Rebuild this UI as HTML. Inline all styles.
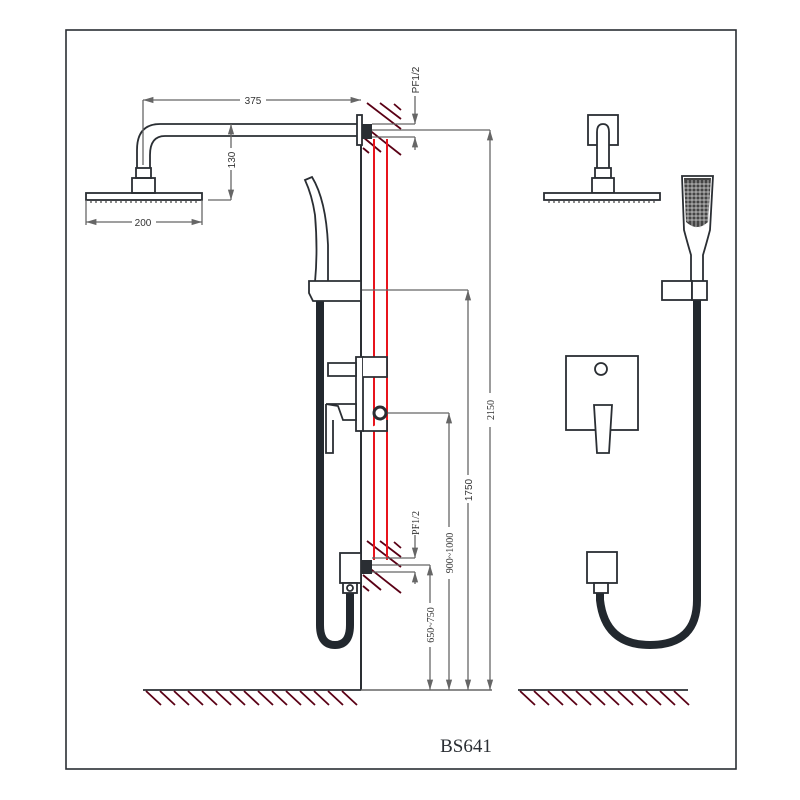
<!DOCTYPE html>
<html><head><style>body{margin:0;background:#fff}svg{display:block}</style></head><body>
<svg width="800" height="800" viewBox="0 0 800 800" xmlns="http://www.w3.org/2000/svg" font-family="Liberation Sans, sans-serif">
<defs>
<marker id="a" viewBox="0 0 10 10" refX="10" refY="5" markerWidth="8" markerHeight="8" orient="auto-start-reverse"><path d="M0,2 L10,5 L0,8 z" fill="#666"/></marker>
</defs>
<rect x="66" y="30" width="670" height="739" fill="none" stroke="#2a2e33" stroke-width="1.6"/>
<g stroke="#5a0015" stroke-width="1.8">
<line x1="143" y1="690" x2="361" y2="690" stroke="#2a2e33"/>
<line x1="518" y1="690" x2="688" y2="690" stroke="#2a2e33"/>
<path d="M146,691 l15,14 M160,691 l15,14 M174,691 l15,14 M188,691 l15,14 M202,691 l15,14 M216,691 l15,14 M230,691 l15,14 M244,691 l15,14 M258,691 l15,14 M272,691 l15,14 M286,691 l15,14 M300,691 l15,14 M314,691 l15,14 M328,691 l15,14 M342,691 l15,14"/>
<path d="M520,691 l15,14 M534,691 l15,14 M548,691 l15,14 M562,691 l15,14 M576,691 l15,14 M590,691 l15,14 M604,691 l15,14 M618,691 l15,14 M632,691 l15,14 M646,691 l15,14 M660,691 l15,14 M674,691 l15,14"/>
<path d="M367,103 l34,26 M380,103 l21,16 M394,104 l7,6 M363,125 l38,30 M363,137 l18,15 M363,148 l6,5"/>
<path d="M367,541 l34,26 M380,541 l21,16 M394,542 l7,6 M363,563 l38,30 M363,575 l18,15 M363,586 l6,5"/>
</g>
<g stroke="#e8141c" stroke-width="2"><line x1="374" y1="139" x2="374" y2="560"/><line x1="387" y1="139" x2="387" y2="560"/></g>
<line x1="361" y1="115" x2="361" y2="690" stroke="#2a2e33" stroke-width="2"/>
<g fill="none" stroke="#2a2e33" stroke-width="1.8">
<path d="M358,124 H160 Q137,124 137,150 V168"/>
<path d="M358,136 H165 Q150,136 150,155 V168"/>
<rect x="136" y="168" width="15" height="10"/>
<rect x="132" y="178" width="23" height="15"/>
<rect x="86" y="193" width="116" height="7"/>
<rect x="357" y="115" width="5" height="30" fill="#fff"/>
</g>
<rect x="362" y="124" width="10" height="15" fill="#2a2e33"/>
<path d="M90,202 H198" stroke="#666" stroke-width="1.5" stroke-dasharray="2,3"/>
<g stroke="#666" stroke-width="1.3" fill="none" font-size="10">
<line x1="143" y1="100" x2="361" y2="100" marker-start="url(#a)" marker-end="url(#a)"/>
<line x1="143" y1="100" x2="143" y2="165"/>
<line x1="231" y1="124" x2="231" y2="200" marker-start="url(#a)" marker-end="url(#a)"/>
<line x1="208" y1="200" x2="231" y2="200"/>
<line x1="86" y1="222" x2="202" y2="222" marker-start="url(#a)" marker-end="url(#a)"/>
<line x1="86" y1="200" x2="86" y2="225"/><line x1="202" y1="200" x2="202" y2="225"/>
<line x1="372" y1="124" x2="415" y2="124"/><line x1="372" y1="137" x2="415" y2="137"/>
<line x1="415" y1="96" x2="415" y2="124" marker-end="url(#a)"/>
<line x1="415" y1="150" x2="415" y2="137" marker-end="url(#a)"/>
<line x1="372" y1="130" x2="490" y2="130"/>
<line x1="490" y1="130" x2="490" y2="690" marker-start="url(#a)" marker-end="url(#a)"/>
<line x1="361" y1="290" x2="468" y2="290"/>
<line x1="468" y1="290" x2="468" y2="690" marker-start="url(#a)" marker-end="url(#a)"/>
<line x1="387" y1="413" x2="449" y2="413"/>
<line x1="449" y1="413" x2="449" y2="690" marker-start="url(#a)" marker-end="url(#a)"/>
<line x1="372" y1="565" x2="430" y2="565"/>
<line x1="430" y1="565" x2="430" y2="690" marker-start="url(#a)" marker-end="url(#a)"/>
<line x1="372" y1="558" x2="415" y2="558"/><line x1="372" y1="572" x2="415" y2="572"/>
<line x1="415" y1="535" x2="415" y2="558" marker-end="url(#a)"/>
<line x1="415" y1="584" x2="415" y2="572" marker-end="url(#a)"/>
<line x1="361" y1="690" x2="492" y2="690" stroke-width="1.6"/>
</g>
<g font-size="10" fill="#333" text-anchor="middle">
<rect x="240" y="94" width="26" height="12" fill="#fff"/><text x="253" y="104">375</text>
<rect x="132" y="216" width="24" height="12" fill="#fff"/><text x="143" y="226">200</text>
<rect x="225" y="148" width="12" height="22" fill="#fff"/><text transform="translate(235,160) rotate(-90)">130</text>
<text transform="translate(419,80) rotate(-90)">PF1/2</text>
<rect x="462" y="475" width="12" height="28" fill="#fff"/><text transform="translate(472,490) rotate(-90)">1750</text>
<g font-family="Liberation Serif, serif">
<rect x="484" y="393" width="12" height="34" fill="#fff"/><text transform="translate(494,410) rotate(-90)">2150</text>
<rect x="443" y="527" width="12" height="52" fill="#fff"/><text transform="translate(453,553) rotate(-90)">900~1000</text>
<rect x="424" y="603" width="12" height="44" fill="#fff"/><text transform="translate(434,625) rotate(-90)">650~750</text>
<text transform="translate(419,523) rotate(-90)">PF1/2</text>
<text x="466" y="752" font-size="19" fill="#2a2e33">BS641</text>
</g></g>
<path d="M320,301 V625 Q320,645 335,645 Q350,645 350,625 V590" fill="none" stroke="#22282e" stroke-width="8"/>
<g fill="#fff" stroke="#2a2e33" stroke-width="1.8">
<path d="M305,180 L312,177 Q326,200 328,245 L328,282 L315,282 Q318,250 315,215 Q312,195 305,180 Z"/>
<path d="M309,281 H361 V301 H313 L309,293 Z"/>
<rect x="340" y="553" width="21" height="30"/>
<rect x="343" y="583" width="14" height="10"/>
<circle cx="350" cy="588" r="3"/>
<rect x="356" y="357" width="7" height="74"/>
<path d="M363,357 H387 V377 H363"/>
<path d="M328,363 H356 V376 H328 Z"/>
<path d="M326,404 H356 V420 H343 L338,406 Z"/>
<path d="M326,404 V453 H333 V420"/>
<path d="M363,431 H387 V420"/>
<circle cx="380" cy="413" r="6" stroke-width="3"/>
</g>
<rect x="362" y="560" width="10" height="14" fill="#2a2e33"/>
<path d="M697,300 V600 Q697,645 650,645 Q605,645 600,600 V590" fill="none" stroke="#22282e" stroke-width="8"/>
<g fill="#fff" stroke="#2a2e33" stroke-width="1.8">
<rect x="588" y="115" width="30" height="30"/>
<path d="M597,168 V132 Q597,124 603,124 Q609,124 609,132 V168"/>
<rect x="595" y="168" width="16" height="10"/>
<rect x="592" y="178" width="22" height="15"/>
<rect x="544" y="193" width="116" height="7"/>
<path d="M682,176 H713 L710,230 Q706,245 703,255 V282 H691 V255 Q688,245 684,230 Z"/>
<rect x="662" y="281" width="30" height="19"/>
<rect x="692" y="281" width="15" height="19"/>
<rect x="566" y="356" width="72" height="74"/>
<circle cx="601" cy="369" r="6"/>
<path d="M594,405 H612 L609,453 H597 Z"/>
<rect x="587" y="552" width="30" height="31"/>
<rect x="594" y="583" width="14" height="10"/>
</g>
<path d="M684,178 H711 L708,222 Q697,232 686,222 Z" fill="#444"/>
<g stroke="#ddd" stroke-width="0.7"><path d="M688,180 V222 M692,180 V226 M696,180 V228 M700,180 V228 M704,180 V226 M708,180 V222 M684,184 H711 M684,188 H711 M684,192 H711 M684,196 H711 M685,200 H710 M685,204 H710 M685,208 H710 M686,212 H709 M686,216 H709 M686,220 H709"/></g>
<path d="M548,202 H656" stroke="#666" stroke-width="1.5" stroke-dasharray="2,3"/>
</svg>
</body></html>
